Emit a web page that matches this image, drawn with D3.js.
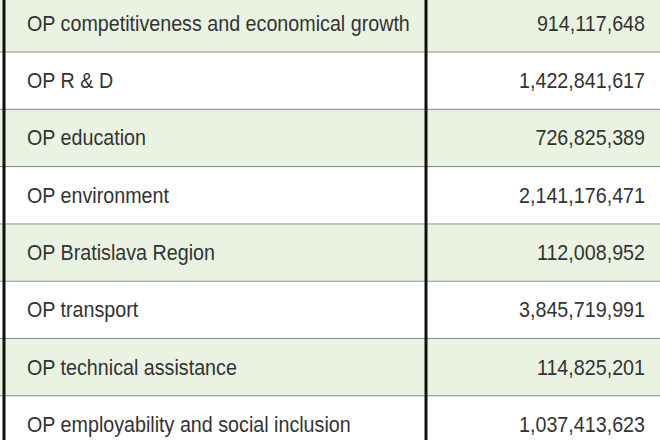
<!DOCTYPE html>
<html><head><meta charset="utf-8">
<script src="https://cdn.jsdelivr.net/npm/d3@7"></script>
<style>body{margin:0;background:#fff}</style>
</head><body>
<script>
// table data
var programmes = ["OP competitiveness and economical growth","OP R & D","OP education","OP environment",
  "OP Bratislava Region","OP transport","OP technical assistance","OP employability and social inclusion"];
var amounts = [914117648,1422841617,726825389,2141176471,112008952,3845719991,114825201,1037413623];

var W = 660, H = 440;
var svg = d3.select("body").append("svg").attr("width",W).attr("height",H);

var y = d3.scaleBand().domain(d3.range(programmes.length)).range([-4.8, 453.6]);
var fmt = d3.format(",");
var FONT = "'Liberation Sans',sans-serif";

var rows = svg.selectAll("g.row").data(programmes).enter().append("g")
  .attr("transform",function(d,i){ return "translate(0,"+y(i)+")"; });

rows.append("rect").attr("x",0).attr("width",W).attr("height",y.bandwidth())
  .attr("fill",function(d,i){ return i%2==0 ? "#eaf3e2" : "#fff"; });

rows.append("line").attr("x1",0).attr("x2",W).attr("y1",y.bandwidth()).attr("y2",y.bandwidth())
  .attr("stroke","#8a8a8a").attr("stroke-width",2);

var labels = rows.append("text").attr("font-family",FONT).attr("font-size",22).attr("fill","#333")
  .text(function(d){ return d; });
var nums = rows.append("text").attr("font-family",FONT).attr("font-size",22).attr("fill","#333")
  .attr("text-anchor","end").text(function(d,i){ return fmt(amounts[i]); });

// squeeze horizontally so the first label spans like the reference (condensed face)
var k = 383 / labels.node().getComputedTextLength();
var ty = y.bandwidth()/2+7;
labels.attr("transform","translate(27,"+ty+") scale("+k+",1)");
nums.attr("transform","translate(645,"+ty+") scale("+k+",1)");

// vertical borders
[4,426].forEach(function(x){
  svg.append("line").attr("x1",x).attr("x2",x).attr("y1",0).attr("y2",H)
    .attr("stroke","#111").attr("stroke-width",3);
});
</script>
</body></html>
